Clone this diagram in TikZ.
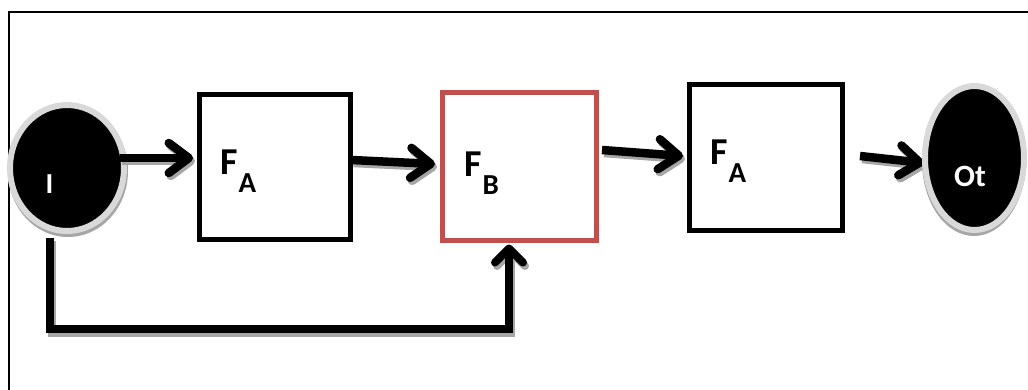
\documentclass[tikz,border=0pt]{standalone}
\usepackage{fontspec}
\setmainfont{Carlito}
\usetikzlibrary{arrows.meta,calc,shapes.geometric}
\pgfdeclarelayer{background}
\pgfsetlayers{background,main}
\definecolor{ringgray}{HTML}{D9D9D9}
\definecolor{shadowgray}{HTML}{A6A6A6}
\definecolor{boxred}{HTML}{C0504D}
\newcommand{\Flabel}[1]{{\fontsize{38}{38}\selectfont F}\hspace{1pt}\raisebox{-18pt}{\fontsize{29}{29}\selectfont #1}}
\tikzset{
  endpoint/.style={ellipse, draw=ringgray, line width=6pt, fill=black, inner sep=0pt},
  blockbox/.style={rectangle, draw=black, line width=5pt, inner sep=0pt},
  redbox/.style={blockbox, draw=boxred},
  conn/.style={line width=8.5pt, draw=black, -{Straight Barb[length=20pt,width=30pt,round]}},
  connshadow/.style={conn, draw=shadowgray, transform canvas={shift={(2pt,-3pt)}}},
  fbline/.style={line width=8pt, draw=black, -{Straight Barb[length=14pt,width=28pt,round]}},
  fbshadow/.style={fbline, draw=shadowgray, transform canvas={shift={(2pt,-3.5pt)}}},
  lbl/.style={inner sep=0pt, anchor=base west, font=\bfseries},
  framelines/.style={line width=1.5pt, draw=black}
}
\begin{document}
\begin{tikzpicture}[x=1pt,y=-1pt]
\useasboundingbox (0,0) rectangle (1028,390);
% frame
\draw[framelines] (9,392) -- (9,12) -- (1030,12);
% shadows of end points
\fill[shadowgray] (68,171) ellipse [x radius=60pt, y radius=66pt];
\fill[shadowgray] (974,161) ellipse [x radius=52pt, y radius=75pt];
% nodes
\node[endpoint, minimum width=114pt, minimum height=126pt] (I) at (67,168) {};
\node[blockbox, minimum width=151pt, minimum height=145pt] (FA1) at (274.5,167.5) {};
\node[redbox, minimum width=154pt, minimum height=148pt] (FB) at (519,167) {};
\node[blockbox, minimum width=153pt, minimum height=146pt] (FA2) at (765.5,158) {};
\node[endpoint, minimum width=99pt, minimum height=144pt] (Ot) at (974.5,158) {};
% texts
\node[lbl, text=white, font=\bfseries\fontsize{29}{29}\selectfont] (Itxt) at (45.5,194) {I};
\node[lbl, text=white, font=\bfseries\fontsize{31}{31}\selectfont] (Ottxt) at (954,187) {Ot};
\node[lbl] (FA1txt) at (220,175) {\Flabel{A}};
\node[lbl] (FBtxt) at (464,177) {\Flabel{B}};
\node[lbl] (FA2txt) at (710,165) {\Flabel{A}};
% connectors: shadows
\draw[connshadow] ($(I.east)+(-7,-10)$) -- ($(FA1.west)+(-3.5,-9.5)$);
\draw[connshadow] ($(FA1.east)+(-1,-7.5)$) -- ($(FB.west)+(-4.5,-3)$);
\draw[connshadow] ($(FB.east)+(3.5,-17)$) -- ($(FA2.west)+(-3.5,-2)$);
\draw[fbshadow] ($(I.south)+(-17,4)$) -- ++(0,91) -| ($(FB.south)+(-10,1)$);
% connectors
\draw[conn] ($(I.east)+(-7,-10)$) -- ($(FA1.west)+(-3.5,-9.5)$);
\draw[conn] ($(FA1.east)+(-1,-7.5)$) -- ($(FB.west)+(-4.5,-3)$);
\draw[conn] ($(FB.east)+(3.5,-17)$) -- ($(FA2.west)+(-3.5,-2)$);
\draw[fbline] ($(I.south)+(-17,4)$) -- ++(0,91) -| ($(FB.south)+(-10,1)$);
\begin{pgfonlayer}{background}
\draw[connshadow] ($(FA2.east)+(15.5,-2)$) -- ($(Ot.west)+(2,5)$);
\draw[conn] ($(FA2.east)+(15.5,-2)$) -- ($(Ot.west)+(2,5)$);
\end{pgfonlayer}
\end{tikzpicture}
\end{document}
